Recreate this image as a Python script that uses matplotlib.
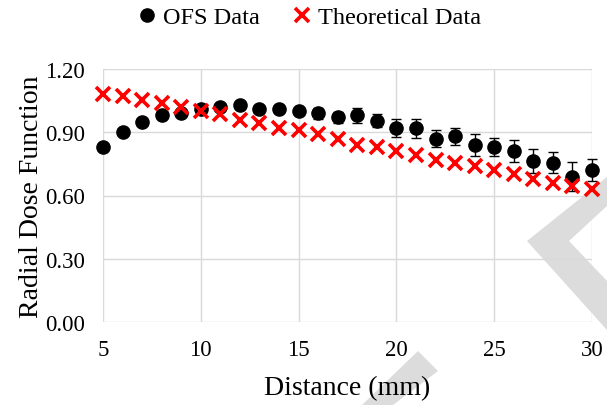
import matplotlib.pyplot as plt
from matplotlib.lines import Line2D
from matplotlib.patches import Polygon

plt.rcParams["font.family"] = ["Liberation Serif", "DejaVu Serif"]

# datos
distance = [5, 6, 7, 8, 9, 10, 11, 12, 13, 14, 15, 16, 17, 18, 19, 20,
            21, 22, 23, 24, 25, 26, 27, 28, 29, 30]
ofs = [0.83, 0.90, 0.95, 0.98, 0.99, 1.01, 1.02, 1.03, 1.01, 1.01, 1.00, 0.99,
       0.97, 0.98, 0.955, 0.92, 0.92, 0.87, 0.88, 0.84, 0.83, 0.81, 0.765, 0.755,
       0.69, 0.72]
ofs_err = [0.01, 0.01, 0.015, 0.015, 0.015, 0.015, 0.02, 0.02, 0.02, 0.02, 0.02,
           0.025, 0.027, 0.037, 0.031, 0.041, 0.045, 0.042, 0.042, 0.053, 0.041,
           0.051, 0.056, 0.05, 0.069, 0.053]
theory = [1.08, 1.07, 1.055, 1.04, 1.02, 1.00, 0.985, 0.96, 0.945, 0.92, 0.91,
          0.89, 0.87, 0.84, 0.83, 0.81, 0.79, 0.77, 0.755, 0.74, 0.72, 0.70,
          0.68, 0.66, 0.645, 0.63]
x_ticks = [5, 10, 15, 20, 25, 30]
y_ticks = [0.0, 0.3, 0.6, 0.9, 1.2]

W, H = 607, 406
fig = plt.figure(figsize=(W / 100, H / 100), dpi=100)
ax = fig.add_axes([103 / W, 1 - 323 / H, 489 / W, 253 / H])
ax.set_facecolor("none")

# marca de agua gris (chevrones), en píxeles de la imagen
WM = "#dcdcdc"
for pts in ([(527, 242), (607, 178), (607, 207), (569, 242), (607, 282), (607, 331)],
            [(418, 352), (438, 372), (393, 406), (362, 406)]):
    fig.patches.append(Polygon([(x / W, 1 - y / H) for x, y in pts],
                               closed=True, transform=fig.transFigure,
                               facecolor=WM, edgecolor="none", zorder=-5))

eb = ax.errorbar(distance, ofs, yerr=ofs_err, fmt="o", color="black", ms=9.5,
                 ecolor="black", elinewidth=1, capsize=3.8, capthick=1, zorder=3)
for art in eb.lines[0:1] + tuple(eb.lines[1]) + tuple(eb.lines[2]):
    art.set_clip_on(False)
th, = ax.plot(distance, theory, "x", color="#ff0000", ms=9.5, mew=2.6,
              zorder=4, clip_on=False)

ax.set_xlim(5, 30)
ax.set_ylim(0, 1.2)
ax.set_xticks(x_ticks)
ax.set_yticks(y_ticks)
ax.set_yticklabels([f"{v:.2f}" for v in y_ticks])
ax.grid(True, color="#d9d9d9", lw=1)
ax.set_axisbelow(True)
for s in ax.spines.values():
    s.set_visible(False)
ax.tick_params(length=0, labelsize=16.5, pad=13)
ax.tick_params(axis="x", pad=12)

ax.set_xlabel("Distance (mm)", fontsize=20, labelpad=11)
ax.set_ylabel("Radial Dose Function", fontsize=20, labelpad=1)

handles = [Line2D([], [], ls="none", marker="o", color="black", ms=9.5),
           Line2D([], [], ls="none", marker="x", color="#ff0000", ms=9.5, mew=2.6)]
fig.legend(handles, ["OFS Data", "Theoretical Data"], loc="center",
           bbox_to_anchor=(310 / W, 1 - 18 / H), ncol=2, frameon=False,
           fontsize=17.5, handlelength=0.7, handletextpad=0.3,
           columnspacing=1.4, borderaxespad=0)

fig.savefig("out.png", dpi=100)
